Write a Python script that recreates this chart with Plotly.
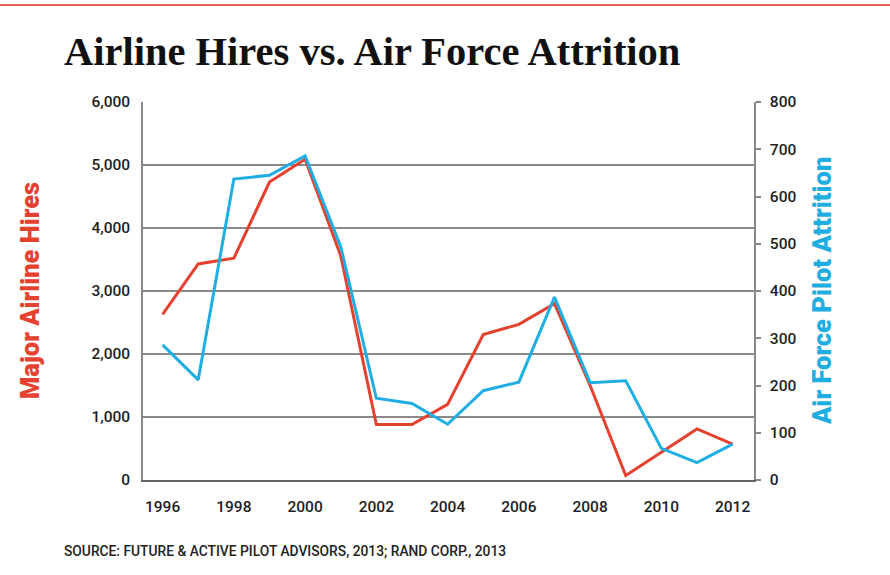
import plotly.graph_objects as go

years = list(range(1996, 2013))
airline_hires = [2630, 3430, 3520, 4730, 5090, 3560, 880, 880, 1200, 2310, 2470, 2800, 1500, 70, 440, 810, 570]
af_attrition = [286, 212, 637, 645, 686, 494, 173, 162, 118, 189, 207, 387, 206, 210, 67, 37, 76]

left_ticks = [0, 1000, 2000, 3000, 4000, 5000, 6000]
right_ticks = [0, 100, 200, 300, 400, 500, 600, 700, 800]
x_ticks = [1996, 1998, 2000, 2002, 2004, 2006, 2008, 2010, 2012]

RED = "#e5412f"
BLUE = "#1eaee2"
GRID = "#8a8a8a"
TXT = "#1e1e1e"

fig = go.Figure()
fig.add_trace(go.Scatter(x=years, y=airline_hires, mode="lines", name="Major Airline Hires",
                         line=dict(color=RED, width=3), yaxis="y"))
fig.add_trace(go.Scatter(x=years, y=af_attrition, mode="lines", name="Air Force Pilot Attrition",
                         line=dict(color=BLUE, width=3), yaxis="y2"))

tickfont = dict(family="Roboto, Arial, sans-serif", size=15.5, color=TXT, weight=500)

fig.update_layout(
    width=890, height=575,
    margin=dict(l=143, r=136, t=102, b=95),
    paper_bgcolor="white", plot_bgcolor="white",
    showlegend=False,
    xaxis=dict(range=[1995.45, 2012.6], tickvals=x_ticks, ticktext=[str(v) for v in x_ticks],
               showgrid=False, zeroline=False, showline=True, linecolor="#666", linewidth=2,
               ticks="", tickfont=tickfont, ticklabelstandoff=11),
    yaxis=dict(range=[0, 6000], tickvals=left_ticks, ticktext=[f"{v:,}" for v in left_ticks],
               showgrid=True, gridcolor=GRID, gridwidth=1.5, zeroline=False,
               showline=True, linecolor="#888", linewidth=1.5, ticks="",
               tickfont=tickfont, ticklabelstandoff=8),
    yaxis2=dict(range=[0, 800], tickvals=right_ticks, ticktext=[str(v) for v in right_ticks],
                overlaying="y", side="right", showgrid=False, zeroline=False,
                showline=True, linecolor="#888", linewidth=1.5,
                ticks="outside", ticklen=5, tickcolor="#888", tickwidth=1.5,
                tickfont=tickfont, ticklabelstandoff=6),
    font=dict(family="Roboto, Arial, sans-serif"),
)

fig.add_annotation(text="Airline Hires vs. Air Force Attrition", xref="paper", yref="paper",
                   x=-143/611, y=1 + (102 - 51) / 378, xanchor="left", yanchor="middle",
                   showarrow=False,
                   font=dict(family="Liberation Serif, serif", size=40.5, color="#111", weight="bold"),
                   xshift=62)
fig.add_annotation(text="Major Airline Hires", xref="paper", yref="paper",
                   x=0, y=0.5, xanchor="center", yanchor="middle", xshift=-113,
                   textangle=-90, showarrow=False,
                   font=dict(family="Roboto, Arial, sans-serif", size=25.5, color=RED, weight=900))
fig.add_annotation(text="Air Force Pilot Attrition", xref="paper", yref="paper",
                   x=1, y=0.5, xanchor="center", yanchor="middle", xshift=68,
                   textangle=-90, showarrow=False,
                   font=dict(family="Roboto, Arial, sans-serif", size=25.5, color=BLUE, weight=900))
fig.add_annotation(text="SOURCE: FUTURE &amp; ACTIVE PILOT ADVISORS, 2013; RAND CORP., 2013",
                   xref="paper", yref="paper", x=0, y=-(551 - 480) / 378,
                   xanchor="left", yanchor="middle", xshift=-81, showarrow=False,
                   font=dict(family="Liberation Sans Narrow, Roboto, sans-serif", size=13.8,
                             color="#222", weight=500))

fig.add_shape(type="line", xref="paper", yref="paper", x0=-143/611, x1=(890-143)/611,
              y0=1 + (102 - 5) / 378, y1=1 + (102 - 5) / 378,
              line=dict(color="#e3605a", width=2))

fig.write_html("out.html")
